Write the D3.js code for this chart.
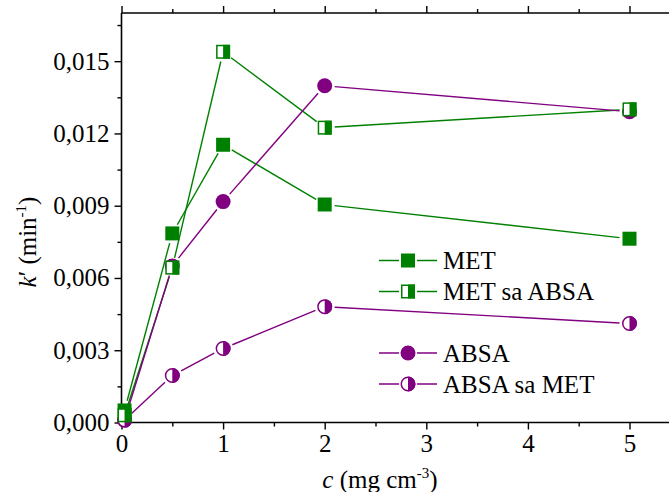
<!DOCTYPE html>
<html><head><meta charset="utf-8">
<script src="https://cdn.jsdelivr.net/npm/d3@7"></script>
</head><body style="margin:0">
<svg id="c" width="669" height="492" font-family="Liberation Serif">
<text id="xtitle" x="380" y="488" text-anchor="middle" font-family="Liberation Serif" font-size="25" fill="#000"><tspan font-style="italic">c</tspan> (mg cm<tspan dy="-10" font-size="15">-3</tspan><tspan dy="10">)</tspan></text>
</svg>
<script>
const xVals = [0.03, 0.5, 1, 2, 5];
const metVals = [0.0005, 0.00785, 0.01153, 0.00905, 0.00763];
const metAbsaVals = [0.0003, 0.00643, 0.01539, 0.01224, 0.0130];
const absaVals = [0.0001, 0.0065, 0.00917, 0.01398, 0.0129];
const absaMetVals = [0.0001, 0.00195, 0.00307, 0.00481, 0.00411];
const seriesNames = ["MET", "MET sa ABSA", "ABSA", "ABSA sa MET"];
const xTicks = [0, 1, 2, 3, 4, 5];
const yTicks = [0, 0.003, 0.006, 0.009, 0.012, 0.015];

const FONT = "Liberation Serif";
const FS = 25;
const GREEN = "#008000", PURPLE = "#800080";
const series = [
  {name: seriesNames[0], vals: metVals, color: GREEN, shape: "square", fill: "full"},
  {name: seriesNames[1], vals: metAbsaVals, color: GREEN, shape: "square", fill: "half"},
  {name: seriesNames[2], vals: absaVals, color: PURPLE, shape: "circle", fill: "full"},
  {name: seriesNames[3], vals: absaMetVals, color: PURPLE, shape: "circle", fill: "half"}
];

const svg = d3.select("#c");
const L = 121.5, B = 422.5, T = 13;
const x = d3.scaleLinear().domain([0, 5.5]).range([L, L + 5.5 * 101.6]);
const y = d3.scaleLinear().domain([0, 0.017]).range([B, T]);
const fmt = d => d3.format(".3f")(d).replace(".", ",");

function axisG(tr, axis) {
  const g = svg.append("g").attr("transform", tr).call(axis);
  g.attr("font-family", FONT).attr("font-size", FS);
  g.selectAll("path.domain").remove();
  g.selectAll(".tick line").attr("stroke", "#000").attr("stroke-width", 1.4);
  g.selectAll(".tick text").attr("font-family", FONT).attr("font-size", FS).attr("fill", "#000");
  return g;
}
const minorX = [0.5,1.5,2.5,3.5,4.5,5.5];
const minorY = [0.0015,0.0045,0.0075,0.0105,0.0135,0.0165];
axisG(`translate(0,${B})`, d3.axisBottom(x).tickValues(xTicks).tickFormat(d3.format("d")).tickSize(7).tickPadding(5));
axisG(`translate(0,${B})`, d3.axisBottom(x).tickValues(minorX).tickFormat("").tickSize(4));
axisG(`translate(${L},0)`, d3.axisLeft(y).tickValues(yTicks).tickFormat(fmt).tickSize(7).tickPadding(5));
axisG(`translate(${L},0)`, d3.axisLeft(y).tickValues(minorY).tickFormat("").tickSize(4));
axisG(`translate(0,${T})`, d3.axisTop(x).tickValues(xTicks).tickFormat("").tickSize(7));
axisG(`translate(0,${T})`, d3.axisTop(x).tickValues(minorX).tickFormat("").tickSize(4));
svg.append("line").attr("x1", L).attr("x2", L).attr("y1", T).attr("y2", B).attr("stroke", "#000").attr("stroke-width", 1.6);
svg.append("line").attr("x1", L).attr("x2", 669).attr("y1", B).attr("y2", B).attr("stroke", "#000").attr("stroke-width", 1.6);
svg.append("line").attr("x1", L).attr("x2", 669).attr("y1", T).attr("y2", T).attr("stroke", "#000").attr("stroke-width", 1.6);

// marker drawing
let clipId = 0;
function marker(g, cx, cy, s) {
  const r = s.shape === "square" ? 7 : 7.5;
  const id = "clip" + (clipId++);
  g.append("clipPath").attr("id", id).append("rect").attr("x", cx).attr("y", cy - r - 2).attr("width", r + 2).attr("height", 2 * r + 4);
  if (s.shape === "square") {
    if (s.fill === "full") {
      g.append("rect").attr("x", cx - r).attr("y", cy - r).attr("width", 2*r).attr("height", 2*r).attr("fill", s.color);
    } else {
      g.append("rect").attr("x", cx - r + 0.75).attr("y", cy - r + 0.75).attr("width", 2*r - 1.5).attr("height", 2*r - 1.5).attr("fill", "#fff").attr("stroke", s.color).attr("stroke-width", 1.5);
      g.append("rect").attr("x", cx).attr("y", cy - r).attr("width", r).attr("height", 2*r).attr("fill", s.color);
    }
  } else {
    if (s.fill === "full") {
      g.append("circle").attr("cx", cx).attr("cy", cy).attr("r", r).attr("fill", s.color);
    } else {
      g.append("circle").attr("cx", cx).attr("cy", cy).attr("r", r - 0.75).attr("fill", "#fff").attr("stroke", s.color).attr("stroke-width", 1.5);
      g.append("circle").attr("cx", cx).attr("cy", cy).attr("r", r).attr("fill", s.color).attr("clip-path", `url(#${id})`);
    }
  }
}

const plot = svg.append("g");
const gap = 10;
series.forEach(s => {
  const pts = xVals.map((xv, i) => [x(xv), y(s.vals[i])]);
  for (let i = 0; i < pts.length - 1; i++) {
    const [x1, y1] = pts[i], [x2, y2] = pts[i+1];
    const dx = x2 - x1, dy = y2 - y1, len = Math.hypot(dx, dy);
    if (len <= 2 * gap) continue;
    const ux = dx / len, uy = dy / len;
    plot.append("line").attr("x1", x1 + ux*gap).attr("y1", y1 + uy*gap).attr("x2", x2 - ux*gap).attr("y2", y2 - uy*gap)
      .attr("stroke", s.color).attr("stroke-width", 1.4);
  }
});
[series[2], series[3], series[0], series[1]].forEach(s => {
  xVals.forEach((xv, i) => marker(plot, x(xv), y(s.vals[i]), s));
});

// legend
const legY = [260.5, 291.5, 353, 384];
series.forEach((s, i) => {
  const g = svg.append("g");
  g.append("line").attr("x1", 379).attr("x2", 437).attr("y1", legY[i]).attr("y2", legY[i]).attr("stroke", s.color).attr("stroke-width", 1.4);
  g.append("rect").attr("x", 399).attr("y", legY[i]-9).attr("width", 18).attr("height", 18).attr("fill", "#fff");
  marker(g, 408, legY[i], s);
  g.append("text").attr("x", 443).attr("y", legY[i] + 8.5).attr("font-family", FONT).attr("font-size", FS).attr("fill", "#000").text(s.name);
});

// y axis title
const yl = svg.append("text").attr("transform", "translate(36,242) rotate(-90)").attr("text-anchor", "middle")
  .attr("font-family", FONT).attr("font-size", FS).attr("fill", "#000");
yl.append("tspan").attr("font-style", "italic").text("k");
yl.append("tspan").text("′ (min");
yl.append("tspan").attr("dy", -10).attr("font-size", 15).text("-1");
yl.append("tspan").attr("dy", 10).text(")");
</script>
</body></html>
